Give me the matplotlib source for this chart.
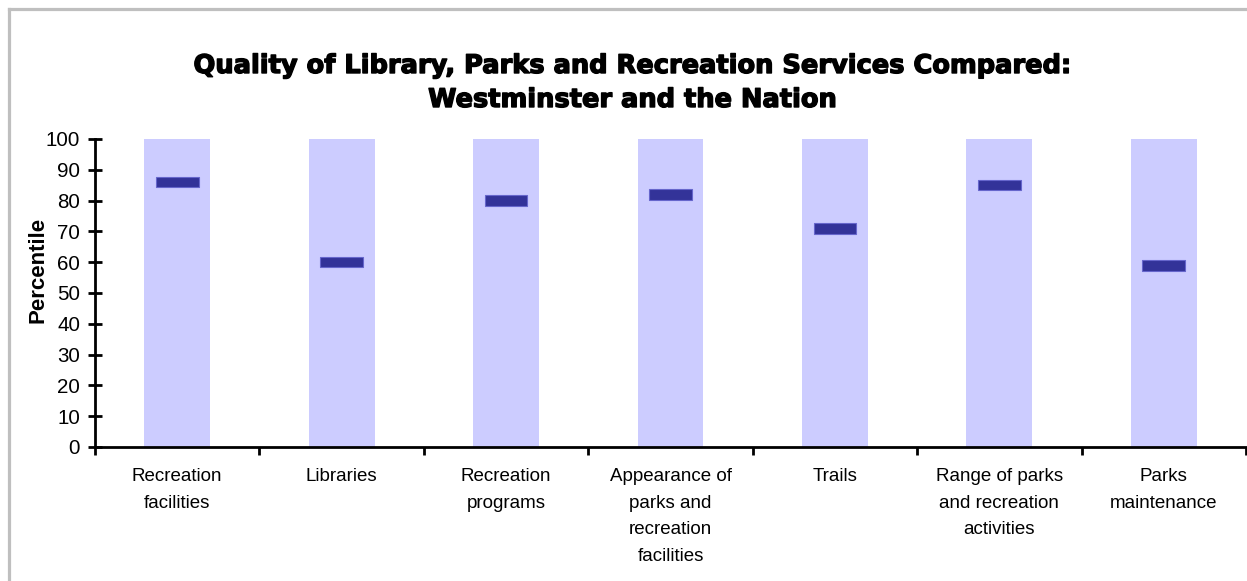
import matplotlib.pyplot as plt
from matplotlib.lines import Line2D
import matplotlib.patheffects as pe
import numpy as np

plt.rcParams['font.family'] = ['Liberation Sans', 'DejaVu Sans']

categories = ['Recreation\nfacilities', 'Libraries', 'Recreation\nprograms',
              'Appearance of\nparks and\nrecreation\nfacilities', 'Trails',
              'Range of parks\nand recreation\nactivities', 'Parks\nmaintenance']
percentiles = [86, 60, 80, 82, 71, 85, 59]
y_ticks = [0, 10, 20, 30, 40, 50, 60, 70, 80, 90, 100]

fig = plt.figure(figsize=(12.47, 5.81), dpi=100)
ax = fig.add_axes([95 / 1247, 1 - 447 / 581, 1151 / 1247, 308 / 581])

x = np.arange(len(categories))
# full-range background column for each service
ax.bar(x, [100] * len(x), width=0.40, color='#ccccff', zorder=1)
# percentile marker
ax.bar(x, [3.4] * len(x), bottom=np.array(percentiles) - 1.7, width=0.26,
       color='#333399', edgecolor='#6666cc', linewidth=0.8, zorder=2)

ax.set_xlim(-0.5, len(x) - 0.5)
ax.set_ylim(0, 100)
ax.set_yticks(y_ticks)
ax.tick_params(axis='y', direction='inout', length=9.5, width=2, labelsize=14.8, pad=6)

ax.set_xticks(np.arange(-0.5, len(x), 1.0))
ax.set_xticklabels([])
ax.set_xticks(x, minor=True)
ax.set_xticklabels(categories, minor=True, fontsize=13.5, linespacing=1.75)
ax.tick_params(axis='x', which='major', direction='out', length=6, width=2)
ax.tick_params(axis='x', which='minor', length=0, pad=15)

for side in ['top', 'right']:
    ax.spines[side].set_visible(False)
for side in ['left', 'bottom']:
    ax.spines[side].set_linewidth(2)

fig.text(38 / 1247, 1 - 270 / 581, 'Percentile', rotation=90, fontsize=16,
         fontweight='bold', ha='center', va='center')

title_fx = [pe.withStroke(linewidth=1.0, foreground='black')]
fig.text(633 / 1247, 1 - 73 / 581,
         'Quality of Library, Parks and Recreation Services Compared:',
         fontsize=18.5, fontweight='bold', ha='center', va='baseline',
         family=['DejaVu Sans'], path_effects=title_fx)
fig.text(633 / 1247, 1 - 107 / 581, 'Westminster and the Nation',
         fontsize=18.5, fontweight='bold', ha='center', va='baseline',
         family=['DejaVu Sans'], path_effects=title_fx)

# frame around the chart (left and top edges)
fig.add_artist(Line2D([8.5 / 1247, 8.5 / 1247], [0, 1 - 8.5 / 581], color='#bfbfbf',
                      linewidth=2.3, transform=fig.transFigure))
fig.add_artist(Line2D([8.5 / 1247, 1], [1 - 8.5 / 581, 1 - 8.5 / 581], color='#bfbfbf',
                      linewidth=2.3, transform=fig.transFigure))

fig.savefig('out.png', dpi=100)
